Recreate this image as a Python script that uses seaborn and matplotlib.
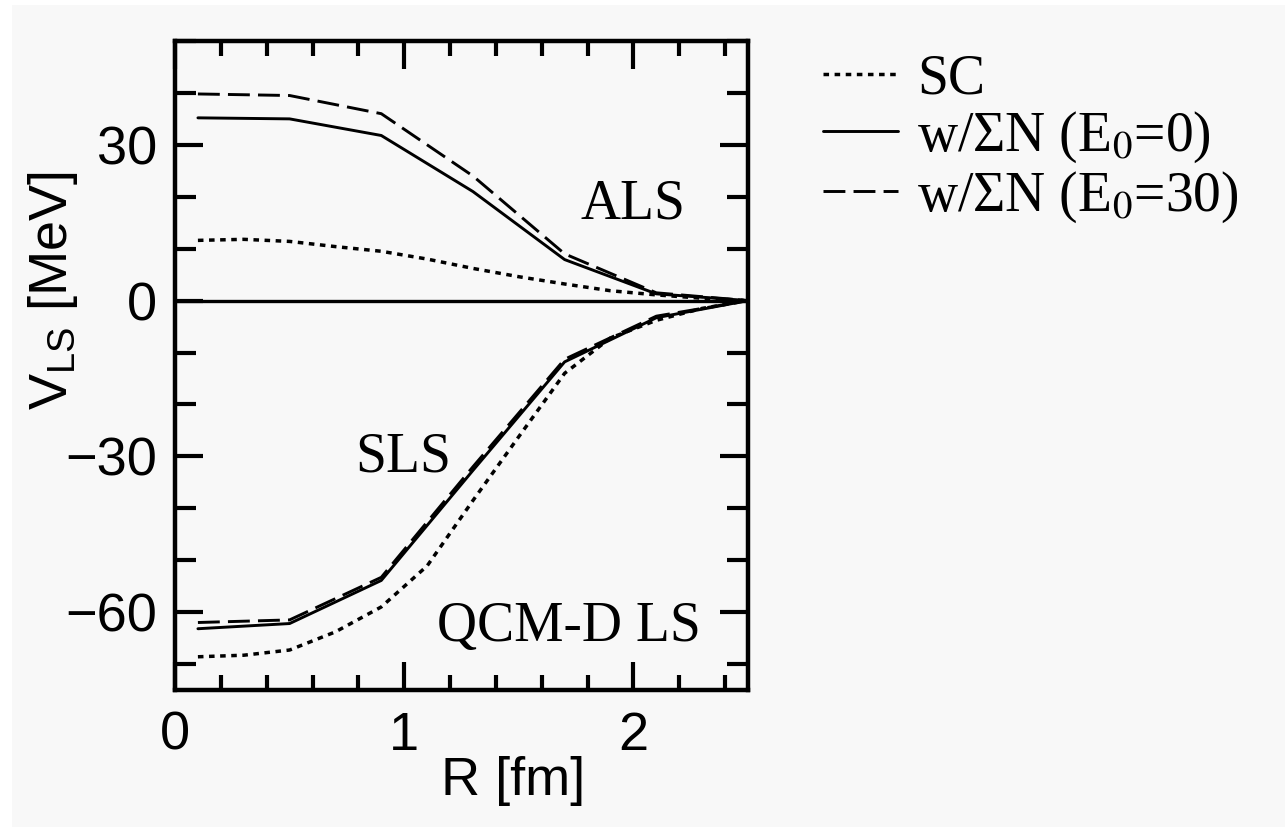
import matplotlib
matplotlib.use("Agg")
import matplotlib.pyplot as plt
from matplotlib.ticker import MultipleLocator
from matplotlib.patches import Rectangle
import numpy as np
import pandas as pd
import seaborn as sns

# ---- data: LS potentials vs. separation R [fm] ----
r_coarse = [0.1, 0.5, 0.9, 1.3, 1.7, 2.1, 2.5]
r_fine = [0.1, 0.3, 0.5, 0.7, 0.9, 1.1, 1.3, 1.5, 1.7, 1.9, 2.1, 2.3, 2.5]

# antisymmetric LS (ALS)
als_sc = [11.6, 11.8, 11.4, 10.4, 9.5, 8.0, 6.2, 4.6, 3.2, 1.9, 1.1, 0.45, 0.0]
als_e0 = [35.2, 35.0, 31.8, 21.0, 7.9, 1.3, 0.0]
als_e30 = [39.8, 39.5, 36.0, 24.0, 9.0, 1.5, 0.0]

# symmetric LS (SLS)
sls_sc = [-68.6, -68.3, -67.3, -63.8, -59.0, -51.1, -38.5, -26.2, -14.0, -7.2, -3.8, -1.5, 0.0]
sls_e0 = [-63.2, -62.2, -53.9, -32.7, -11.8, -3.3, 0.0]
sls_e30 = [-62.0, -61.5, -53.3, -32.0, -11.3, -3.0, 0.0]

legend_labels = ["SC", r"w/ΣN (E$_0$=0)", r"w/ΣN (E$_0$=30)"]
x_ticks = [0, 1, 2]
y_ticks = [-60, -30, 0, 30]

sns.set_theme(style="ticks")
bg = "#f8f8f8"
plt.rcParams.update({
    "font.family": ["Liberation Sans", "DejaVu Sans"],
    "mathtext.fontset": "custom",
    "mathtext.rm": "Liberation Sans",
    "mathtext.it": "Liberation Sans",
    "axes.linewidth": 3.2,
    "text.color": "black",
    "axes.labelcolor": "black",
    "xtick.color": "black",
    "ytick.color": "black",
})

W, H = 1285, 827
fig = plt.figure(figsize=(W / 100, H / 100), dpi=100, facecolor=bg)
# thin white margins along the top and left edges
fig.patches.append(Rectangle((0, 1 - 5 / H), 1, 5 / H, transform=fig.transFigure,
                             facecolor="white", edgecolor="none", zorder=-1))
fig.patches.append(Rectangle((0, 0), 12 / W, 1, transform=fig.transFigure,
                             facecolor="white", edgecolor="none", zorder=-1))

x0, x1, y0, y1 = 175, 748, 41, 690
ax = fig.add_axes([x0 / W, 1 - y1 / H, (x1 - x0) / W, (y1 - y0) / H])
ax.set_facecolor(bg)

lw = 2.1
dot = dict(color="black", lw=2.5, linestyle=(0, (1.6, 1.6)), dash_capstyle="butt")
solid = dict(color="black", lw=lw, linestyle="-")
dash = dict(color="black", lw=lw, linestyle=(0, (7.5, 2.8)))

sns.lineplot(x=r_fine, y=als_sc, ax=ax, label=legend_labels[0], **dot)
sns.lineplot(x=r_coarse, y=als_e0, ax=ax, label=legend_labels[1], **solid)
sns.lineplot(x=r_coarse, y=als_e30, ax=ax, label=legend_labels[2], **dash)
sns.lineplot(x=r_fine, y=sls_sc, ax=ax, legend=False, **dot)
sns.lineplot(x=r_coarse, y=sls_e0, ax=ax, legend=False, **solid)
sns.lineplot(x=r_coarse, y=sls_e30, ax=ax, legend=False, **dash)
ax.axhline(0, color="black", lw=2.4, zorder=1)

ax.set_xlim(0, 2.5)
ax.set_ylim(-75, 50)
ax.set_xticks(x_ticks)
ax.set_yticks(y_ticks)
ax.set_xticklabels([str(v) for v in x_ticks])
ax.set_yticklabels([str(v).replace("-", "\u2212") for v in y_ticks])
ax.xaxis.set_minor_locator(MultipleLocator(0.2))
ax.yaxis.set_minor_locator(MultipleLocator(10))
ax.tick_params(which="both", direction="in", top=True, right=True,
               width=3.0, colors="black", labelsize=39)
ax.tick_params(which="major", length=20)
ax.tick_params(axis="x", which="minor", length=11)
ax.tick_params(axis="y", which="minor", length=15)
ax.tick_params(axis="x", which="major", pad=15)
ax.tick_params(axis="y", which="major", pad=13)
for s in ax.spines.values():
    s.set_color("black")
    s.set_linewidth(3.2)

ax.set_xlabel("R [fm]", fontsize=39, va="center")
ax.xaxis.set_label_coords((513 - x0) / (x1 - x0), (y1 - 781) / (y1 - y0))
ax.set_ylabel(r"$\mathrm{V_{LS}}$ [MeV]", fontsize=39, va="center")
ax.yaxis.set_label_coords((53 - x0) / (x1 - x0), (y1 - 291) / (y1 - y0))

serif = ["Liberation Serif", "DejaVu Serif"]
ax.text(2.0, 18.6, "ALS", fontsize=40, family=serif, ha="center", va="center")
ax.text(0.995, -30.3, "SLS", fontsize=40, family=serif, ha="center", va="center")
ax.text(1.72, -62.9, "QCM-D LS", fontsize=40, family=serif, ha="center", va="center")

leg = ax.legend(loc="upper left", bbox_to_anchor=(823 / W, 1 - 53 / H),
                bbox_transform=fig.transFigure, frameon=False, borderpad=0,
                borderaxespad=0, handlelength=1.35, handletextpad=0.35,
                labelspacing=0.08, prop={"family": serif, "size": 40})
for t in leg.get_texts():
    t.set_math_fontfamily("stix")

fig.savefig("out.png", dpi=100, facecolor=bg)
